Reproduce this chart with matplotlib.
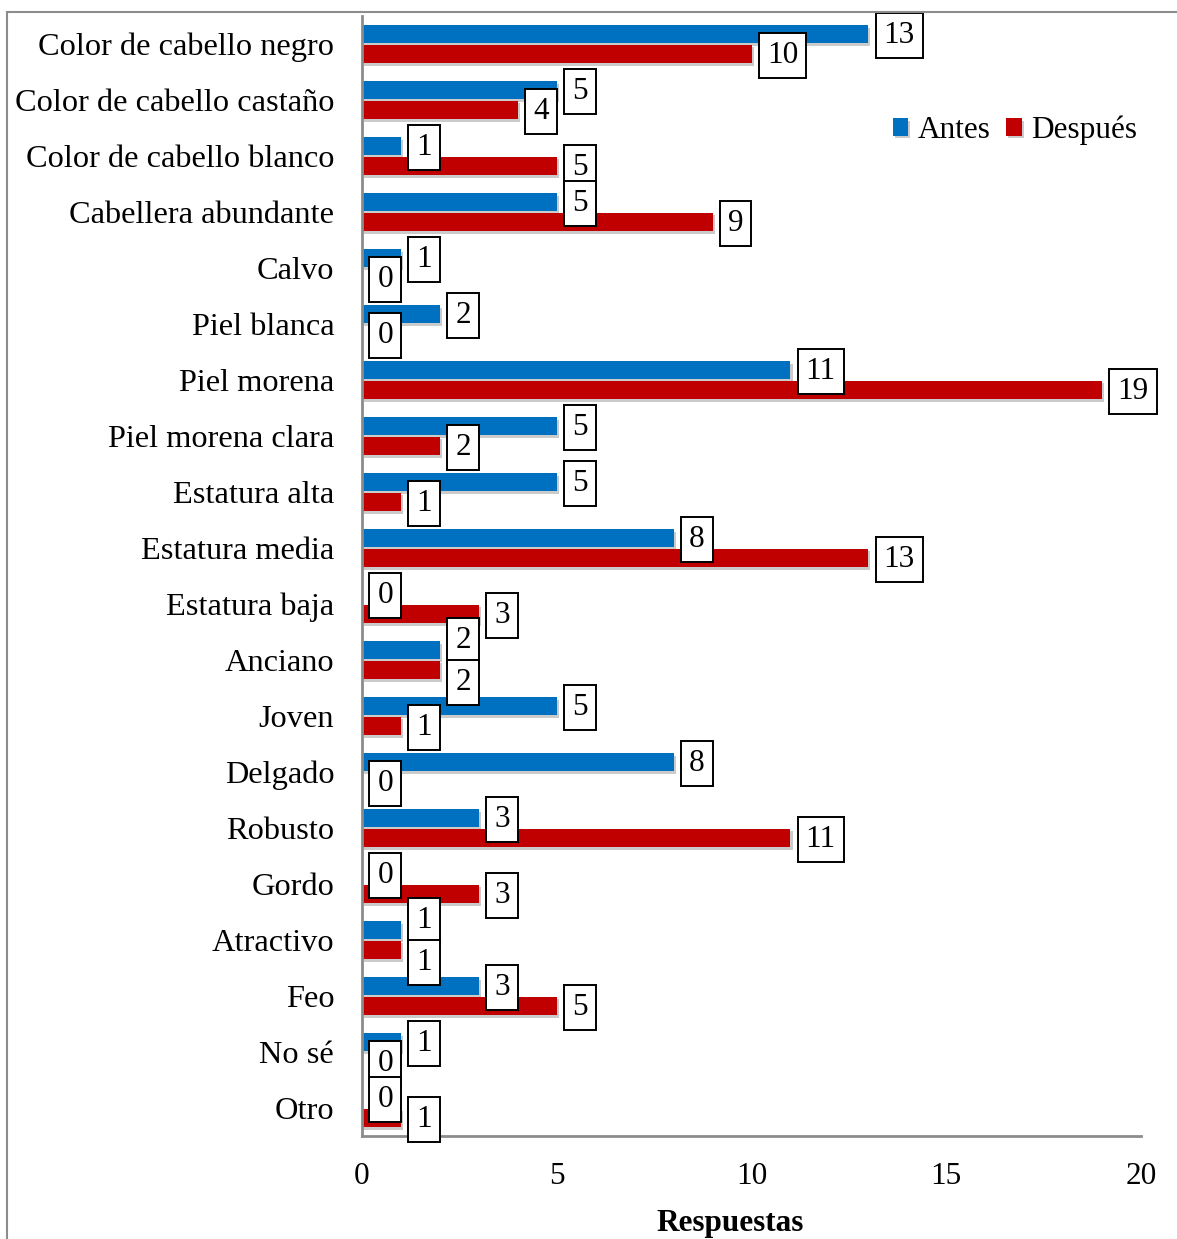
import numpy as np
import matplotlib
matplotlib.use("Agg")
import matplotlib.pyplot as plt
from matplotlib.patches import Rectangle
import matplotlib.patheffects as pe

categories = ["Color de cabello negro", "Color de cabello castaño", "Color de cabello blanco",
              "Cabellera abundante", "Calvo", "Piel blanca", "Piel morena", "Piel morena clara",
              "Estatura alta", "Estatura media", "Estatura baja", "Anciano", "Joven", "Delgado",
              "Robusto", "Gordo", "Atractivo", "Feo", "No sé", "Otro"]
antes = [13, 5, 1, 5, 1, 2, 11, 5, 5, 8, 0, 2, 5, 8, 3, 0, 1, 3, 1, 0]
despues = [10, 4, 5, 9, 0, 0, 19, 2, 1, 13, 3, 2, 1, 0, 11, 3, 1, 5, 0, 1]
xticks = [0, 5, 10, 15, 20]

plt.rcParams['font.family'] = ['Liberation Serif', 'DejaVu Serif']
FS = 22.5
W, H = 1177, 1239
fig = plt.figure(figsize=(W / 100, H / 100), dpi=100)
ax = fig.add_axes([362 / W, 1 - 1136 / H, (1141 - 362) / W, (1136 - 16) / H])

# outer frame
fig.patches.append(Rectangle((7 / W, -0.1), 1.2, 0.1 + 1 - 12 / H, transform=fig.transFigure,
                             fill=False, edgecolor='#8c8c8c', lw=1.5, clip_on=False))

y = np.arange(len(categories))
h = 0.33
off = 0.175
blue = '#0070C0'
red = '#C00000'
shadow = [pe.SimplePatchShadow(offset=(1.5, -2), shadow_rgbFace='#999999', alpha=0.5), pe.Normal()]
ax.barh(y - off, antes, height=h, color=blue, label='Antes', path_effects=shadow)
ax.barh(y + off, despues, height=h, color=red, label='Después', path_effects=shadow)

bbox = dict(boxstyle='square,pad=0.26', fc='white', ec='black', lw=1.4)
for i in range(len(categories)):
    a, d = antes[i], despues[i]
    nudge = 8.0 if a == d else 0.0
    ax.annotate(str(a), xy=(a, y[i] - off), xytext=(11, nudge - 1), textcoords='offset points',
                ha='left', va='center', fontsize=FS, bbox=bbox, zorder=5)
    ax.annotate(str(d), xy=(d, y[i] + off), xytext=(11, -nudge - 1), textcoords='offset points',
                ha='left', va='center', fontsize=FS, bbox=bbox, zorder=5)

ax.set_xlim(0, 20)
ax.set_ylim(len(categories) - 0.5, -0.5)
ax.set_xticks(xticks)
ax.set_xticklabels([str(t) for t in xticks], fontsize=FS)
ax.set_yticks(y)
ax.set_yticklabels(categories, fontsize=23.3)
ax.tick_params(axis='both', length=0)
ax.tick_params(axis='x', pad=19)
ax.tick_params(axis='y', pad=20)
for s in ('top', 'right'):
    ax.spines[s].set_visible(False)
for s in ('left', 'bottom'):
    ax.spines[s].set_color('#8c8c8c')
    ax.spines[s].set_linewidth(2)

ax.set_xlabel('Respuestas', fontsize=FS, fontweight='bold')
ax.xaxis.set_label_coords((730 - 362) / (1141 - 362), -0.065)

ax.legend(loc='center right', bbox_to_anchor=(0.995, (1136 - 130) / 1120), ncol=2, frameon=False,
          fontsize=FS, handlelength=0.5, handleheight=0.5, handletextpad=0.3,
          columnspacing=0.5, borderaxespad=0, borderpad=0)

fig.savefig('out.png', dpi=100)
